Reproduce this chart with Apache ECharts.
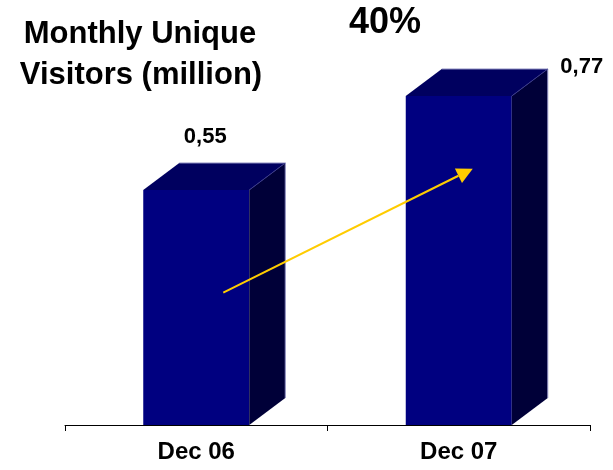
<!DOCTYPE html>
<html>
<head>
<meta charset="utf-8">
<script src="https://cdn.jsdelivr.net/npm/echarts@6/dist/echarts.min.js"></script>
<style>
  html, body { margin: 0; padding: 0; background: #fff; }
  #chart { width: 613px; height: 470px; }
</style>
</head>
<body>
<div id="chart"></div>
<script>
// Monthly unique visitors, in millions
const categories = ['Dec 06', 'Dec 07'];
const visitors = [0.55, 0.77];
const growthLabel = '40%';
const titleLines = ['Monthly Unique', 'Visitors (million)'];

// Growth arrow endpoints as [category index, value]
const arrowFrom = [0, 0.31];
const arrowTo = [1, 0.60];

const FONT = '"Liberation Sans", Arial, Helvetica, sans-serif';
const BAR_W = 106;
const DEPTH_X = 36;
const DEPTH_Y = 27;
// value label placement relative to the bar top centre (px)
const labelOffsets = [[9, -64], [123, -40]];

function fmt(v) { return v.toFixed(2).replace('.', ','); }

const chart = echarts.init(document.getElementById('chart'), null, { renderer: 'canvas' });

function renderBar(params, api) {
  const idx = api.value(0);
  const v = api.value(1);
  const top = api.coord([idx, v]);
  const base = api.coord([idx, 0]);
  const l = top[0] - BAR_W / 2, r = top[0] + BAR_W / 2;
  const t = top[1], b = base[1];
  const off = labelOffsets[params.dataIndex];
  return {
    type: 'group',
    children: [
      { type: 'rect', shape: { x: l, y: t, width: BAR_W, height: b - t },
        style: { fill: '#000080' } },
      { type: 'polygon', shape: { points: [[l, t], [l + DEPTH_X, t - DEPTH_Y], [r + DEPTH_X, t - DEPTH_Y], [r, t]] },
        style: { fill: '#00005f' } },
      { type: 'polygon', shape: { points: [[r, t], [r + DEPTH_X, t - DEPTH_Y], [r + DEPTH_X, b - DEPTH_Y], [r, b]] },
        style: { fill: '#000038' } },
      { type: 'polyline', shape: { points: [[l + DEPTH_X, t - DEPTH_Y], [r + DEPTH_X, t - DEPTH_Y], [r + DEPTH_X, b - DEPTH_Y]] },
        style: { stroke: '#8c8cc0', lineWidth: 1, fill: null } },
      { type: 'line', shape: { x1: r, y1: t, x2: r + DEPTH_X, y2: t - DEPTH_Y },
        style: { stroke: '#3a3a8c', lineWidth: 1 } },
      { type: 'text', x: top[0] + off[0], y: t + off[1],
        style: { text: fmt(v), font: 'bold 22px ' + FONT, fill: '#000',
                 align: 'center', verticalAlign: 'top' } }
    ]
  };
}

chart.setOption({
  animation: false,
  backgroundColor: '#fff',
  grid: { left: 65, right: 23, top: 2, bottom: 45 },
  xAxis: {
    type: 'category',
    data: categories,
    boundaryGap: true,
    axisLine: { show: true, lineStyle: { color: '#000', width: 1 } },
    axisTick: { show: true, length: 6, lineStyle: { color: '#000', width: 1 } },
    axisLabel: { color: '#000', fontFamily: FONT, fontWeight: 'bold', fontSize: 24, margin: 15 }
  },
  yAxis: { type: 'value', min: 0, max: 0.99, show: false, splitLine: { show: false } },
  series: [{
    type: 'custom',
    renderItem: renderBar,
    data: visitors.map((v, i) => [i, v]),
    z: 2
  }],
  graphic: [
    { id: 'title1', type: 'text', x: 140, y: 19,
      style: { text: titleLines[0], font: 'bold 31px ' + FONT, fill: '#000', align: 'center', verticalAlign: 'top' } },
    { id: 'title2', type: 'text', x: 141, y: 60,
      style: { text: titleLines[1], font: 'bold 31px ' + FONT, fill: '#000', align: 'center', verticalAlign: 'top' } },
    { id: 'growth', type: 'text', x: 385, y: 5,
      style: { text: growthLabel, font: 'bold 36px ' + FONT, fill: '#000', align: 'center', verticalAlign: 'top' } }
  ]
});

// growth arrow, drawn on top of the bars
(function drawArrow() {
  const p0 = chart.convertToPixel({ gridIndex: 0 }, arrowFrom);
  const p1 = chart.convertToPixel({ gridIndex: 0 }, arrowTo);
  const start = [p0[0] + 27, p0[1]];
  const tip = [p1[0] + 14, p1[1]];
  const dx = tip[0] - start[0], dy = tip[1] - start[1];
  const len = Math.sqrt(dx * dx + dy * dy);
  const ux = dx / len, uy = dy / len;
  const headLen = 16, headHalf = 8;
  const bm = [tip[0] - ux * headLen, tip[1] - uy * headLen];
  const nx = -uy, ny = ux;
  chart.setOption({
    graphic: [
      { id: 'arrowLine', type: 'line', z: 10, shape: { x1: start[0], y1: start[1], x2: bm[0], y2: bm[1] },
        style: { stroke: '#ffcc00', lineWidth: 2 } },
      { id: 'arrowHead', type: 'polygon', z: 10,
        shape: { points: [tip, [bm[0] + nx * headHalf, bm[1] + ny * headHalf], [bm[0] - nx * headHalf, bm[1] - ny * headHalf]] },
        style: { fill: '#ffcc00' } }
    ]
  });
})();
</script>
</body>
</html>
